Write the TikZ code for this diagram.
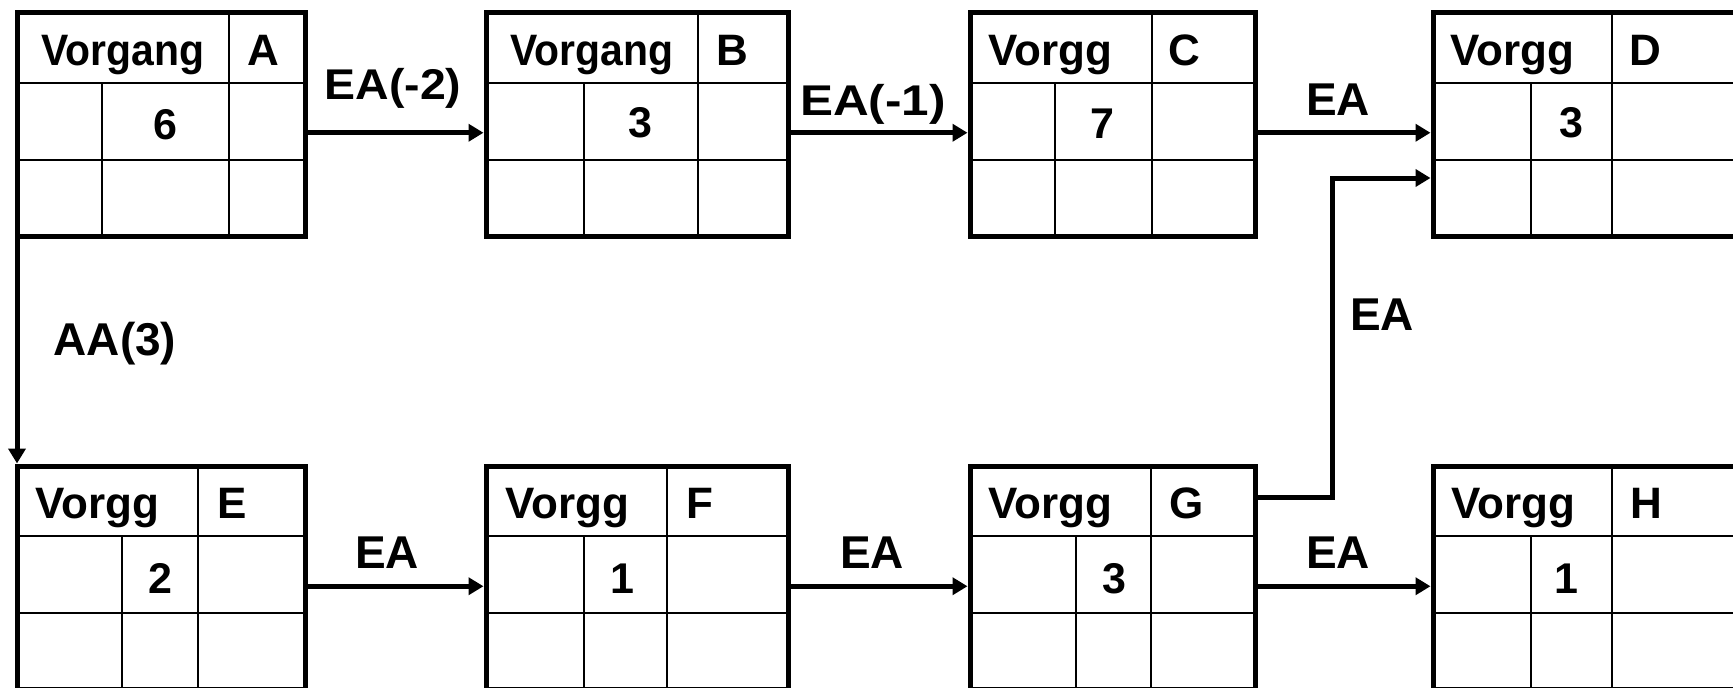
\documentclass[tikz,border=0pt]{standalone}
\usepackage{fontspec}
\setmainfont{Liberation Sans}
\usepackage{graphicx}
\usetikzlibrary{arrows.meta}
\newcommand\boxgrid[5]{% #1 top, #2 left, #3 right, #4 full divider, #5 partial divider
  \draw[grid] (#2,#1+70) -- (#3,#1+70) (#2,#1+147) -- (#3,#1+147)
    (#4,#1) -- (#4,#1+223.5) (#5,#1+70) -- (#5,#1+223.5);}
\begin{document}
\begin{tikzpicture}[x=1pt,y=-1pt,
  box/.style={draw, line width=5pt, rectangle, inner sep=0pt, outer sep=0pt,
    anchor=north west, minimum height=223.5pt},
  grid/.style={line width=2pt},
  conn/.style={line width=5pt, -{Triangle[length=15pt,width=17pt]}, shorten >=2.5pt},
  txt/.style={anchor=base, inner sep=0pt, font=\bfseries\fontsize{44}{50}\selectfont},
  num/.style={anchor=base, inner sep=0pt, font=\bfseries\fontsize{43}{50}\selectfont},
  lab/.style={anchor=base, inner sep=0pt, font=\bfseries\fontsize{46}{52}\selectfont},
  labx/.style={anchor=base, inner sep=0pt, font=\bfseries\fontsize{43}{50}\selectfont}]
\clip (0,0) rectangle (1733,688);
% boxes
\node[box, minimum width=288pt] (A) at (17,12.5) {};
\node[box, minimum width=302pt] (B) at (486,12.5) {};
\node[box, minimum width=285pt] (C) at (970,12.5) {};
\node[box, minimum width=310pt] (D) at (1433,12.5) {};
\node[box, minimum width=288pt] (E) at (17,466) {};
\node[box, minimum width=302pt] (F) at (486,466) {};
\node[box, minimum width=285pt] (G) at (970,466) {};
\node[box, minimum width=310pt] (H) at (1433,466) {};
% inner grids
\boxgrid{12.5}{17}{305}{229}{102}
\boxgrid{12.5}{486}{788}{698}{584}
\boxgrid{12.5}{970}{1255}{1152}{1055}
\boxgrid{12.5}{1433}{1743}{1612}{1531}
\boxgrid{466}{17}{305}{198}{122}
\boxgrid{466}{486}{788}{667}{584}
\boxgrid{466}{970}{1255}{1151}{1076}
\boxgrid{466}{1433}{1743}{1612}{1531}
% box texts
\node[txt] (tA) at (123,65) {\scalebox{0.93}[1]{Vorgang}};
\node[txt] (lA) at (263,65) {A};
\node[num] (dA) at (165,139) {6};
\node[txt] (tB) at (592,65) {\scalebox{0.93}[1]{Vorgang}};
\node[txt] (lB) at (732,65) {B};
\node[num] (dB) at (640,137) {3};
\node[txt] (tC) at (1050,65) {Vorgg};
\node[txt] (lC) at (1184,65) {C};
\node[num] (dC) at (1102,138) {7};
\node[txt] (tD) at (1512,65) {Vorgg};
\node[txt] (lD) at (1645,65) {D};
\node[num] (dD) at (1571,137) {3};
\node[txt] (tE) at (97,518) {Vorgg};
\node[txt] (lE) at (232,518) {E};
\node[num] (dE) at (160,593) {2};
\node[txt] (tF) at (567,518) {Vorgg};
\node[txt] (lF) at (700,518) {F};
\node[num] (dF) at (622,593) {1};
\node[txt] (tG) at (1050,518) {Vorgg};
\node[txt] (lG) at (1187,518) {G};
\node[num] (dG) at (1114,593) {3};
\node[txt] (tH) at (1513,518) {Vorgg};
\node[txt] (lH) at (1646,518) {H};
\node[num] (dH) at (1566,593) {1};
% connector labels
\node[labx] (eAB) at (393,99) {\scalebox{1.08}[1]{EA(-2)}};
\node[labx] (eBC) at (873,115) {\scalebox{1.15}[1]{EA(-1)}};
\node[lab] (eCD) at (1338,115) {EA};
\node[lab] (eEF) at (387,568) {EA};
\node[lab] (eFG) at (872,568) {EA};
\node[lab] (eGH) at (1338,568) {EA};
\node[lab] (eAE) at (115,355) {AA(3)};
\node[lab] (eGD) at (1382,330) {EA};
% connectors
\draw[conn] ([yshift=-8.5pt]A.east) -- ([yshift=-8.5pt]B.west);
\draw[conn] ([yshift=-8.5pt]B.east) -- ([yshift=-8.5pt]C.west);
\draw[conn] ([yshift=-8.5pt]C.east) -- ([yshift=-8.5pt]D.west);
\draw[conn] ([yshift=-8.5pt]E.east) -- ([yshift=-8.5pt]F.west);
\draw[conn] ([yshift=-8.5pt]F.east) -- ([yshift=-8.5pt]G.west);
\draw[conn] ([yshift=-8.5pt]G.east) -- ([yshift=-8.5pt]H.west);
\draw[conn] (A.south west) -- (E.north west);
\coordinate (k1) at (1332,497);
\coordinate (k2) at (1332,178);
\draw[conn] (G.east |- k1) -- (k1) -- (k2) -- (D.west |- k2);
\end{tikzpicture}
\end{document}
